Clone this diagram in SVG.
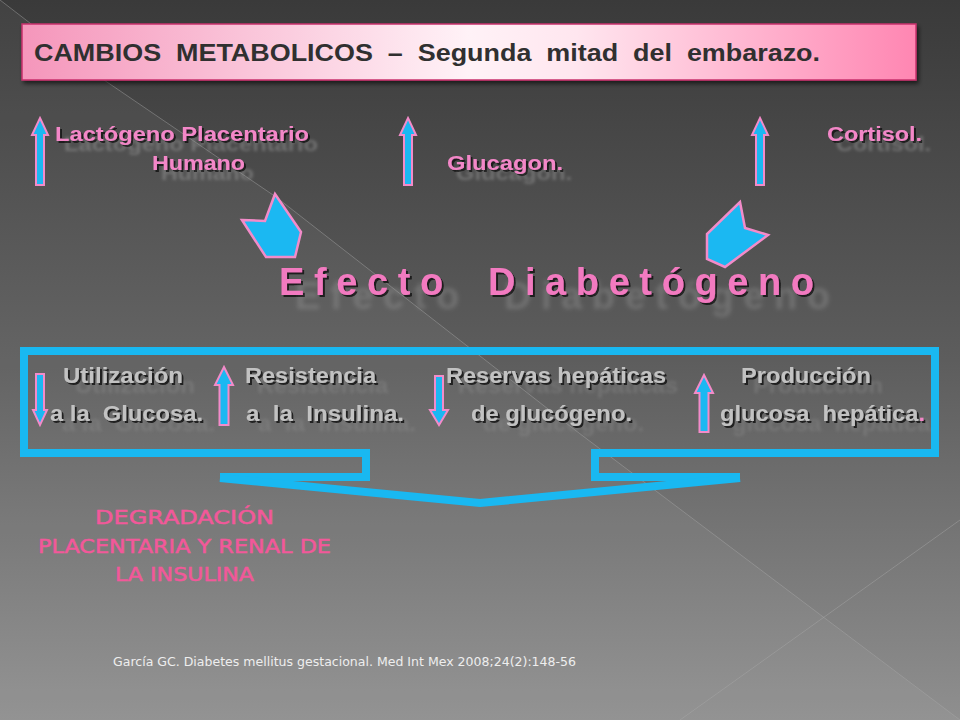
<svg xmlns="http://www.w3.org/2000/svg" width="960" height="720" viewBox="0 0 960 720">
<defs>
<linearGradient id="bg" x1="0" y1="0" x2="0" y2="1">
<stop offset="0" stop-color="#3a3a3a"/>
<stop offset="0.5" stop-color="#5d5d5d"/>
<stop offset="1" stop-color="#8f8f8f"/>
</linearGradient>
<linearGradient id="titleGrad" x1="0" y1="0" x2="1" y2="0">
<stop offset="0" stop-color="#f596bb"/>
<stop offset="0.5" stop-color="#fff2f7"/>
<stop offset="0.62" stop-color="#ffe6ef"/>
<stop offset="1" stop-color="#ff86b2"/>
</linearGradient>
<filter id="boxShadow" x="-5%" y="-20%" width="110%" height="160%">
<feDropShadow dx="2" dy="3" stdDeviation="2" flood-color="#000" flood-opacity="0.6"/>
</filter>
<filter id="pinkfx" x="-10%" y="-40%" width="130%" height="200%">
<feGaussianBlur in="SourceAlpha" stdDeviation="1.8" result="b"/>
<feOffset in="b" dx="9" dy="10" result="o"/>
<feFlood flood-color="#a0a0a0" flood-opacity="0.45"/>
<feComposite in2="o" operator="in" result="ghost"/>
<feOffset in="SourceAlpha" dx="2" dy="2" result="s"/>
<feFlood flood-color="#151515" flood-opacity="0.9"/>
<feComposite in2="s" operator="in" result="shadow"/>
<feMerge><feMergeNode in="ghost"/><feMergeNode in="shadow"/><feMergeNode in="SourceGraphic"/></feMerge>
</filter>
<filter id="bigfx" x="-10%" y="-40%" width="130%" height="200%">
<feGaussianBlur in="SourceAlpha" stdDeviation="2" result="b"/>
<feOffset in="b" dx="16" dy="14" result="o"/>
<feFlood flood-color="#a0a0a0" flood-opacity="0.35"/>
<feComposite in2="o" operator="in" result="ghost"/>
<feOffset in="SourceAlpha" dx="2" dy="2" result="s"/>
<feFlood flood-color="#151515" flood-opacity="0.9"/>
<feComposite in2="s" operator="in" result="shadow"/>
<feMerge><feMergeNode in="ghost"/><feMergeNode in="shadow"/><feMergeNode in="SourceGraphic"/></feMerge>
</filter>
<filter id="grayfx" x="-10%" y="-40%" width="130%" height="200%">
<feGaussianBlur in="SourceAlpha" stdDeviation="1.8" result="b"/>
<feOffset in="b" dx="12" dy="10" result="o"/>
<feFlood flood-color="#9a9a9a" flood-opacity="0.3"/>
<feComposite in2="o" operator="in" result="ghost"/>
<feOffset in="SourceAlpha" dx="1.6" dy="1.6" result="s"/>
<feFlood flood-color="#202020" flood-opacity="0.95"/>
<feComposite in2="s" operator="in" result="shadow"/>
<feMerge><feMergeNode in="ghost"/><feMergeNode in="shadow"/><feMergeNode in="SourceGraphic"/></feMerge>
</filter>
</defs>
<style>
.pink { font-family: "Liberation Sans", Arial, sans-serif; font-weight: bold; font-size: 21px; fill: #f387c8; filter: url(#pinkfx); }
.gray { font-family: "Liberation Sans", Arial, sans-serif; font-weight: bold; font-size: 22px; fill: #c2c2c2; filter: url(#grayfx); white-space: pre; }
.arr { fill: #1bb8f2; stroke: #f38bc9; stroke-width: 2; stroke-linejoin: miter; }
.penta { fill: #1bb8f2; stroke: #f38bc9; stroke-width: 2.5; stroke-linejoin: miter; }
.brk { fill: none; stroke: #19b8f1; stroke-width: 8; stroke-linejoin: miter; }
.deg { font-family: "DejaVu Sans", "Liberation Sans", sans-serif; font-size: 20px; fill: #f2589a; stroke: #f2589a; stroke-width: 0.5; }
.bgline { fill: none; stroke: #a8a8a8; stroke-opacity: 0.45; stroke-width: 1; }
</style>

<rect width="960" height="720" fill="url(#bg)"/>
<polygon points="0,0 104,80 276,197 575,430 960,720 0,720" fill="#ffffff" fill-opacity="0.045"/>
<path class="bgline" d="M0,0 L104,80 L276,197 L575,430 L960,720"/>
<path class="bgline" d="M960,520 L680,720"/>

<g id="title">
<rect x="22" y="24" width="894" height="56" fill="url(#titleGrad)" stroke="#c8306c" stroke-width="1.5" filter="url(#boxShadow)"/>
<text x="34" y="61" font-family="Liberation Sans, Arial, sans-serif" font-weight="bold" font-size="24" fill="#303030" style="white-space:pre" textLength="786" lengthAdjust="spacingAndGlyphs">CAMBIOS  METABOLICOS  –  Segunda  mitad  del  embarazo.</text>
</g>

<g id="lactogeno">
<text class="pink" x="55" y="141" textLength="254" lengthAdjust="spacingAndGlyphs">Lactógeno Placentario</text>
<text class="pink" x="152" y="170" textLength="93" lengthAdjust="spacingAndGlyphs">Humano</text>
</g>
<g id="glucagon">
<text class="pink" x="447" y="170" textLength="116" lengthAdjust="spacingAndGlyphs">Glucagon.</text>
</g>
<g id="cortisol">
<text class="pink" x="827" y="141" textLength="95" lengthAdjust="spacingAndGlyphs">Cortisol.</text>
</g>

<g id="efecto">
<text x="279" y="295" font-family="Liberation Sans, Arial, sans-serif" font-weight="bold" font-size="38" fill="#f27ac0" letter-spacing="9.6" word-spacing="15" filter="url(#bigfx)">Efecto Diabetógeno</text>
</g>

<g id="utilizacion">
<text class="gray" x="63" y="383" textLength="120" lengthAdjust="spacingAndGlyphs">Utilización</text>
<text class="gray" x="50" y="421" textLength="153" lengthAdjust="spacingAndGlyphs">a la  Glucosa.</text>
</g>
<g id="resistencia">
<text class="gray" x="245" y="383" textLength="131" lengthAdjust="spacingAndGlyphs">Resistencia</text>
<text class="gray" x="246" y="421" textLength="158" lengthAdjust="spacingAndGlyphs">a  la  Insulina.</text>
</g>
<g id="reservas">
<text class="gray" x="446" y="383" textLength="220" lengthAdjust="spacingAndGlyphs">Reservas hepáticas</text>
<text class="gray" x="471" y="421" textLength="161" lengthAdjust="spacingAndGlyphs">de glucógeno.</text>
</g>
<g id="produccion">
<text class="gray" x="741" y="383" textLength="130" lengthAdjust="spacingAndGlyphs">Producción</text>
<text class="gray" x="720" y="421" textLength="205" lengthAdjust="spacingAndGlyphs">glucosa  hepática<tspan fill="#f387c8">.</tspan></text>
</g>

<g id="degradacion">
<text class="deg" x="95" y="524" textLength="179" lengthAdjust="spacingAndGlyphs">DEGRADACIÓN</text>
<text class="deg" x="38" y="553" textLength="293" lengthAdjust="spacingAndGlyphs">PLACENTARIA Y RENAL DE</text>
<text class="deg" x="115" y="581" textLength="139" lengthAdjust="spacingAndGlyphs">LA INSULINA</text>
</g>

<g id="citation">
<text x="113" y="666" font-family="DejaVu Sans, Liberation Sans, sans-serif" font-size="11.5" fill="#eeeeee" textLength="463" lengthAdjust="spacingAndGlyphs">García GC. Diabetes mellitus gestacional. Med Int Mex 2008;24(2):148-56</text>
</g>

<g id="connectors">
<path class="arr" d="M40,118 L48,135 L44,135 L44,185 L36,185 L36,135 L32,135 Z"/>
<path class="arr" d="M408,118 L416,135 L412,135 L412,185 L404,185 L404,135 L400,135 Z"/>
<path class="arr" d="M760,118 L768,135 L764,135 L764,185 L756,185 L756,135 L752,135 Z"/>
<path class="penta" d="M242,220 L265,221 L275,194 L301,232 L295,257 L266,257 Z"/>
<path class="penta" d="M740,202 L745,228 L768,235 L725,267 L707,259 L707,234 Z"/>
<path class="arr" d="M36,374 L44,374 L44,410 L47,410 L40,425 L33,410 L36,410 Z"/>
<path class="arr" d="M224,367 L233,385 L228.5,385 L228.5,425 L219.5,425 L219.5,385 L215,385 Z"/>
<path class="arr" d="M435,376 L443,376 L443,410 L448,410 L439,425 L430,410 L435,410 Z"/>
<path class="arr" d="M704,375 L713,393 L708.5,393 L708.5,432 L699.5,432 L699.5,393 L695,393 Z"/>
<path class="brk" d="M366,481 L366,453 L24,453 L24,351 L935,351 L935,453 L595,453 L595,481"/>
<path class="brk" stroke-width="6" d="M220,477 L366,477"/>
<path class="brk" stroke-width="6" d="M595,477 L740,477"/>
<path class="brk" stroke-width="7" d="M220,478 L480,503 L740,478"/>
</g>
</svg>
